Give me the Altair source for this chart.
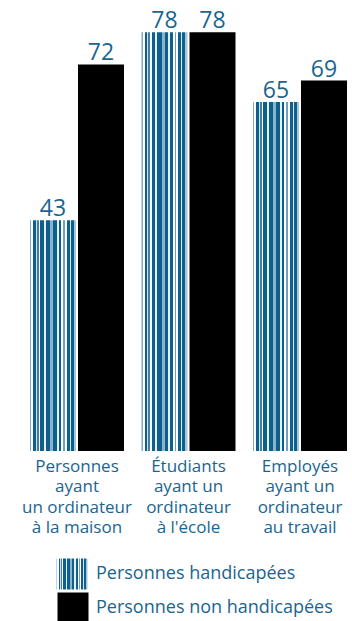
import altair as alt
import pandas as pd

categories = [
    "Personnes|ayant|un ordinateur|à la maison",
    "Étudiants|ayant un|ordinateur|à l'école",
    "Employés|ayant un|ordinateur|au travail",
]
series = ["Personnes handicapées", "Personnes non handicapées"]
handicap = [43, 78, 65]
non_handicap = [72, 78, 69]

BLUE_TEXT = "#1a6590"
FONT = "Open Sans"

rows = []
for c, v in zip(categories, handicap):
    rows.append({"category": c, "series": series[0], "value": v})
for c, v in zip(categories, non_handicap):
    rows.append({"category": c, "series": series[1], "value": v})
df = pd.DataFrame(rows)
leg_df = pd.DataFrame({"series": series})

# striped fill imitating the patterned bars
bands = [
    (0.00, 0.03, "#7fa9c4"), (0.03, 0.07, "#ffffff"), (0.07, 0.12, "#0d5f8c"),
    (0.12, 0.15, "#cfe0ea"), (0.15, 0.19, "#3f7fa6"), (0.19, 0.22, "#ffffff"),
    (0.22, 0.30, "#0d5f8c"), (0.30, 0.34, "#e6eff4"), (0.34, 0.44, "#0d5f8c"),
    (0.44, 0.50, "#8db3cb"), (0.50, 0.58, "#0d5f8c"), (0.58, 0.62, "#e6eff4"),
    (0.62, 0.68, "#0d5f8c"), (0.68, 0.72, "#ffffff"), (0.72, 0.76, "#6f9fbf"),
    (0.76, 0.80, "#ffffff"), (0.80, 0.86, "#0d5f8c"), (0.86, 0.89, "#d8e6ee"),
    (0.89, 0.95, "#0d5f8c"), (0.95, 1.00, "#a8c6d8"),
]
stops = []
for a, b, col in bands:
    stops.append(alt.GradientStop(color=col, offset=a))
    stops.append(alt.GradientStop(color=col, offset=b))
pattern = alt.Gradient(gradient="linear", x1=0, x2=1, y1=0, y2=0, stops=stops)

base = alt.Chart(df).encode(
    x=alt.X(
        "category:N",
        sort=categories,
        scale=alt.Scale(paddingInner=0.157, paddingOuter=0),
        axis=alt.Axis(
            title=None,
            labelExpr="split(datum.label, '|')",
            labelAngle=0,
            domain=False,
            ticks=False,
            labelFont=FONT,
            labelFontSize=17,
            labelColor=BLUE_TEXT,
            labelLineHeight=20.5,
            labelBaseline="top",
            labelPadding=7,
        ),
    ),
    xOffset=alt.XOffset(
        "series:N", sort=series,
        scale=alt.Scale(domain=series, paddingInner=0.0417, paddingOuter=0),
    ),
    y=alt.Y("value:Q", scale=alt.Scale(domain=[0, 84], nice=False, zero=True), axis=None),
)

bars_h = base.transform_filter(alt.datum.series == series[0]).mark_bar(fill=pattern)
bars_n = base.transform_filter(alt.datum.series == series[1]).mark_bar(color="black")
labels = base.mark_text(
    baseline="alphabetic", dy=-4, font=FONT, fontSize=23, color=BLUE_TEXT
).encode(text="value:Q")

top = alt.layer(bars_h, bars_n, labels).properties(width=317, height=451)

leg = alt.Chart(leg_df).encode(
    y=alt.Y("series:N", sort=series, axis=None,
            scale=alt.Scale(domain=series, paddingInner=0, paddingOuter=0)),
)
sq_h = leg.transform_filter(alt.datum.series == series[0]).mark_square(
    size=31 * 31, fill=pattern, opacity=1
).encode(x=alt.value(42))
sq_n = leg.transform_filter(alt.datum.series == series[1]).mark_square(
    size=31 * 31, color="black", opacity=1
).encode(x=alt.value(43))
leg_text = leg.mark_text(
    align="left", baseline="middle", font=FONT, fontSize=18, color=BLUE_TEXT
).encode(x=alt.value(66), text="series:N")
legend = alt.layer(sq_h, sq_n, leg_text).properties(width=317, height=68)

chart = alt.vconcat(top, legend, spacing=106, bounds="flush").properties(
    padding={"left": 21, "top": 0, "right": 0, "bottom": 0},
).configure(background="white").configure_view(stroke=None)

chart.save("out.html", embed_options={"renderer": "svg", "actions": False})
